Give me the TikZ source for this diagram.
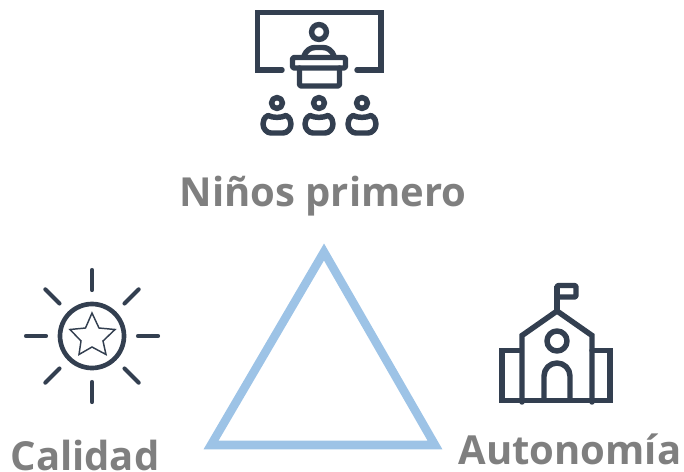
\documentclass[tikz,border=0pt]{standalone}
\usepackage{fontspec}
\setmainfont{Open Sans}
\definecolor{icon}{HTML}{333F50}
\definecolor{tri}{HTML}{9DC3E6}
\definecolor{lab}{HTML}{7F7F7F}
\tikzset{
  iconline/.style={draw=icon,line width=4.1pt,line cap=round,line join=round},
  iconthin/.style={draw=icon,line width=3.1pt,line cap=round,line join=round},
  hair/.style={draw=icon,line width=1.1pt,line join=miter},
  label/.style={text=lab,font=\bfseries\fontsize{30pt}{32pt}\selectfont,inner sep=0pt,anchor=base}
}
\begin{document}
\begin{tikzpicture}[x=0.75pt,y=-0.75pt]
\useasboundingbox (0,0) rectangle (684,471);
% board
\draw[iconline,line join=miter] (282,70) -- (257.5,70) -- (257.5,12.5) -- (381,12.5) -- (381,70) -- (357,70);
% presenter
\draw[iconline] (319,32) circle (7.4);
\draw[iconline] (304,56) .. controls (306,50) and (311,47.5) .. (315,47.5) -- (323,47.5) .. controls (327,47.5) and (332,50) .. (334,56);
% lectern
\draw[iconline,rounded corners=1.5] (292.5,57.5) rectangle (345.5,68);
\draw[iconline,rounded corners=1.5] (299.5,68) -- (299.5,86) -- (339.5,86) -- (339.5,68);
% audience
\foreach \cx in {277,319,362}{
  \draw[iconline] (\cx,103) circle (5.5);
  \draw[iconline] (\cx-9,115.5) .. controls (\cx-13,117.5) and (\cx-14,121) .. (\cx-14,124) .. controls (\cx-14,129) and (\cx-10,133) .. (\cx-6,133) -- (\cx+6,133) .. controls (\cx+10,133) and (\cx+14,129) .. (\cx+14,124) .. controls (\cx+14,121) and (\cx+13,117.5) .. (\cx+9,115.5) .. controls (\cx+4,118) and (\cx-4,118) .. (\cx-9,115.5) -- cycle;
}
% quality
\draw[iconthin,line width=3.5pt] (92,336) circle (32);
\draw[hair] (92,313) -- (99,328) -- (115,329.5) -- (103,341) -- (106,354.5) -- (92,347) -- (79,354.5) -- (81,341) -- (70,329.5) -- (85.5,328) -- cycle;
\foreach \a in {0,45,...,315}{
  \draw[iconthin] ({92+46*cos(\a)},{336+46*sin(\a)}) -- ({92+66*cos(\a)},{336+66*sin(\a)});
}
% school
\draw[iconline,line cap=butt,line join=miter] (557,312) -- (557,285.5);
\draw[iconline,rounded corners=1] (557,285.5) rectangle (576,297);
\draw[iconline,line join=miter] (522,402) -- (522,335.5) -- (557,311) -- (592,335.5) -- (592,402);
\draw[iconline,line join=miter] (521,350.5) -- (502,350.5) -- (502,400.5) -- (610,400.5) -- (610,350.5) -- (592,350.5);
\draw[iconline] (557,341) circle (10);
\draw[iconline,line cap=butt] (544,400) -- (544,376) arc (180:360:13) -- (570,400);
% triangle
\draw[draw=tri,line width=6.4pt,line join=miter] (324,252) -- (435,445) -- (211,445) -- cycle;
% labels
\node[label] (ninos) at (323,206) {Niños primero};
\node[label] (calidad) at (85,470) {Calidad};
\node[label] (autonomia) at (570,464) {Autonomía};
\end{tikzpicture}
\end{document}
